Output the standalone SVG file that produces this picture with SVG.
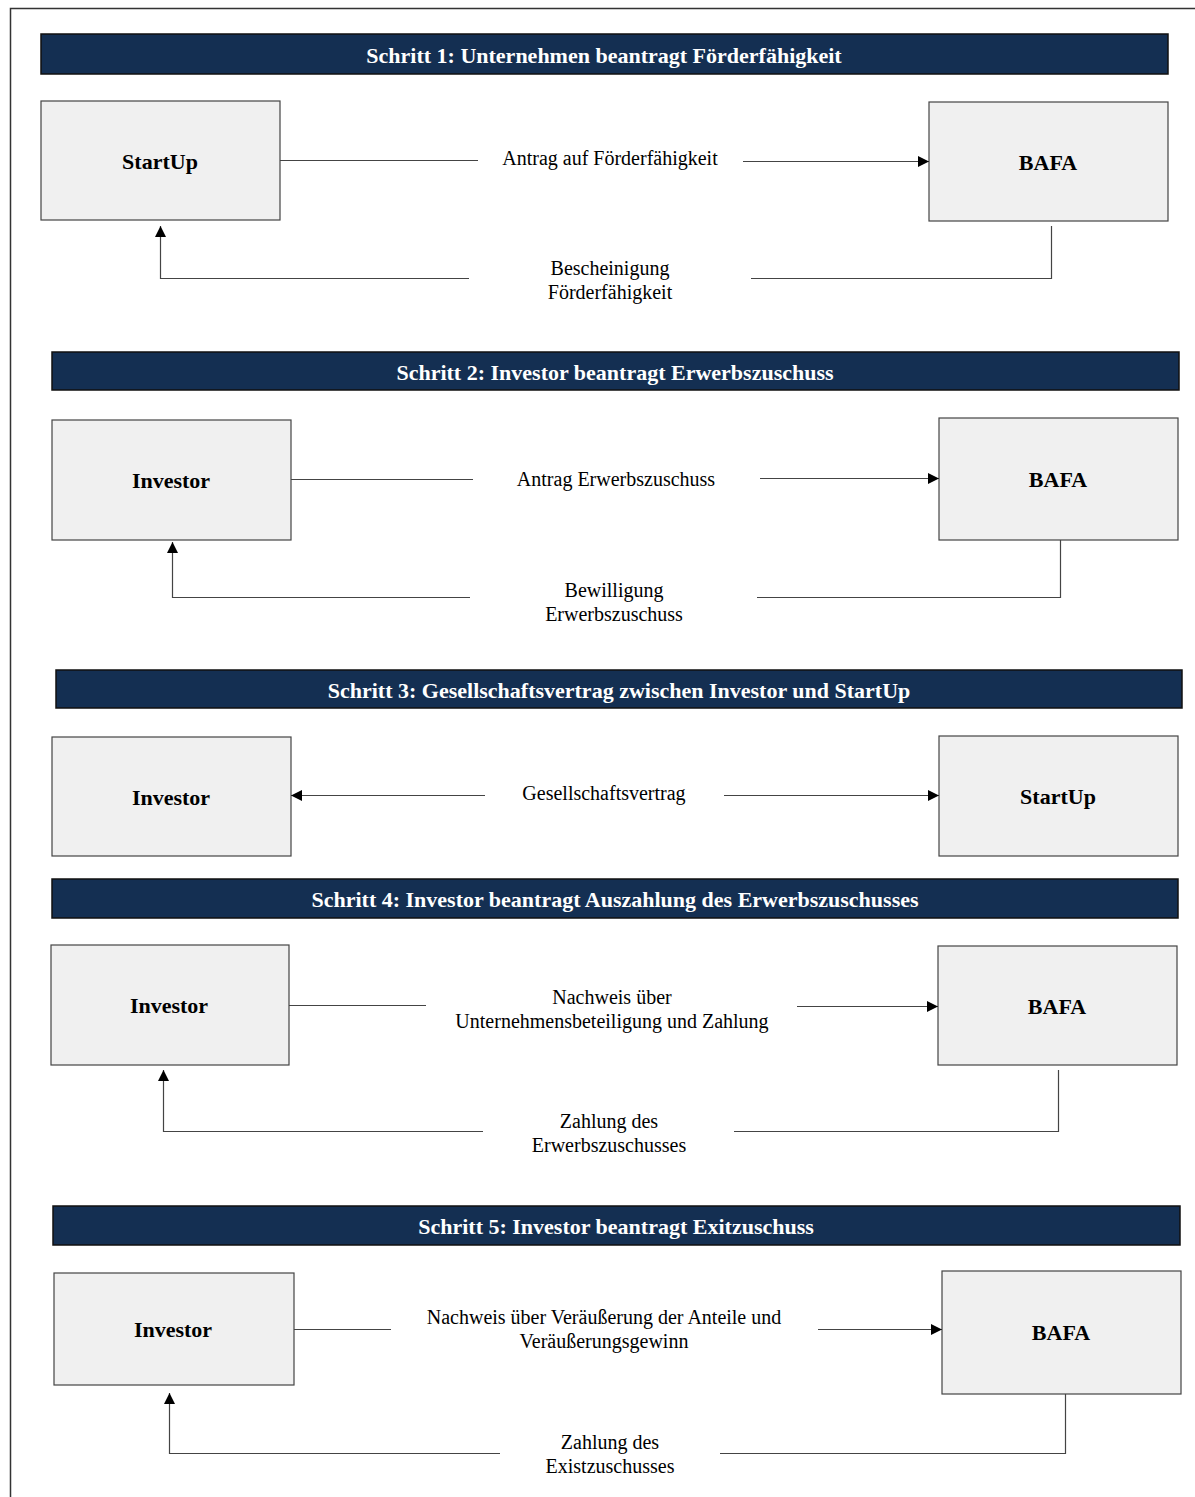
<svg xmlns="http://www.w3.org/2000/svg" width="1195" height="1497" viewBox="0 0 1195 1497">
<style>
.hdr{fill:#142f52;stroke:#111;stroke-width:1.5}
.hdrt{font-family:"Liberation Serif",serif;font-weight:bold;font-size:22px;fill:#fff;text-anchor:middle}
.box{fill:#f0f0f0;stroke:#444;stroke-width:1.2}
.nt{font-family:"Liberation Serif",serif;font-weight:bold;font-size:22px;fill:#000;text-anchor:middle}
.lt{font-family:"Liberation Serif",serif;font-size:20px;fill:#000;text-anchor:middle}
.ln{fill:none;stroke:#444;stroke-width:1.2}
</style>
<defs>
<marker id="ah" viewBox="0 0 10 10" refX="10" refY="5" markerWidth="11" markerHeight="11" markerUnits="userSpaceOnUse" orient="auto">
<path d="M0,0 L10,5 L0,10 z" fill="#000"/>
</marker>
</defs>
<rect width="1195" height="1497" fill="#fff"/>
<path d="M10.5,1497 V8.5 H1195" fill="none" stroke="#333" stroke-width="1.5"/>

<g id="header1"><rect class="hdr" x="41" y="34" width="1127" height="40"/><text class="hdrt" x="604" y="63">Schritt 1: Unternehmen beantragt Förderfähigkeit</text></g>
<g id="startup1"><rect class="box" x="41" y="101" width="239" height="119"/><text class="nt" x="160" y="169">StartUp</text></g>
<g id="bafa1"><rect class="box" x="929" y="102" width="239" height="119"/><text class="nt" x="1048" y="170">BAFA</text></g>

<g id="header2"><rect class="hdr" x="52" y="352" width="1127" height="38"/><text class="hdrt" x="615" y="380">Schritt 2: Investor beantragt Erwerbszuschuss</text></g>
<g id="investor2"><rect class="box" x="52" y="420" width="239" height="120"/><text class="nt" x="171" y="488">Investor</text></g>
<g id="bafa2"><rect class="box" x="939" y="418" width="239" height="122"/><text class="nt" x="1058" y="487">BAFA</text></g>

<g id="header3"><rect class="hdr" x="56" y="670" width="1126" height="38"/><text class="hdrt" x="619" y="698">Schritt 3: Gesellschaftsvertrag zwischen Investor und StartUp</text></g>
<g id="investor3"><rect class="box" x="52" y="737" width="239" height="119"/><text class="nt" x="171" y="805">Investor</text></g>
<g id="startup3"><rect class="box" x="939" y="736" width="239" height="120"/><text class="nt" x="1058" y="804">StartUp</text></g>

<g id="header4"><rect class="hdr" x="52" y="879" width="1126" height="39"/><text class="hdrt" x="615" y="907">Schritt 4: Investor beantragt Auszahlung des Erwerbszuschusses</text></g>
<g id="investor4"><rect class="box" x="51" y="945" width="238" height="120"/><text class="nt" x="169" y="1013">Investor</text></g>
<g id="bafa4"><rect class="box" x="938" y="946" width="239" height="119"/><text class="nt" x="1057" y="1014">BAFA</text></g>

<g id="header5"><rect class="hdr" x="53" y="1206" width="1127" height="39"/><text class="hdrt" x="616" y="1234">Schritt 5: Investor beantragt Exitzuschuss</text></g>
<g id="investor5"><rect class="box" x="54" y="1273" width="240" height="112"/><text class="nt" x="173" y="1337">Investor</text></g>
<g id="bafa5"><rect class="box" x="942" y="1271" width="239" height="123"/><text class="nt" x="1061" y="1340">BAFA</text></g>

<g id="connectors">
<path class="ln" d="M280,160.5 H478"/>
<path class="ln" d="M743,161.5 H929" marker-end="url(#ah)"/>
<path class="ln" d="M1051.5,226 V278.5 H751"/>
<path class="ln" d="M469,278.5 H160.5 V226" marker-end="url(#ah)"/>
<text class="lt" x="610" y="165">Antrag auf Förderfähigkeit</text>
<text class="lt" x="610" y="275">Bescheinigung</text>
<text class="lt" x="610" y="299">Förderfähigkeit</text>

<path class="ln" d="M291,479.5 H473"/>
<path class="ln" d="M760,478.5 H939" marker-end="url(#ah)"/>
<path class="ln" d="M1060.5,540 V597.5 H757"/>
<path class="ln" d="M470,597.5 H172.5 V542" marker-end="url(#ah)"/>
<text class="lt" x="616" y="486">Antrag Erwerbszuschuss</text>
<text class="lt" x="614" y="597">Bewilligung</text>
<text class="lt" x="614" y="621">Erwerbszuschuss</text>

<path class="ln" d="M485,795.5 H291" marker-end="url(#ah)"/>
<path class="ln" d="M724,795.5 H939" marker-end="url(#ah)"/>
<text class="lt" x="604" y="800">Gesellschaftsvertrag</text>

<path class="ln" d="M289,1005.5 H426"/>
<path class="ln" d="M797,1006.5 H938" marker-end="url(#ah)"/>
<path class="ln" d="M1058.5,1070 V1131.5 H734"/>
<path class="ln" d="M483,1131.5 H163.5 V1070" marker-end="url(#ah)"/>
<text class="lt" x="612" y="1004">Nachweis über</text>
<text class="lt" x="612" y="1028">Unternehmensbeteiligung und Zahlung</text>
<text class="lt" x="609" y="1128">Zahlung des</text>
<text class="lt" x="609" y="1152">Erwerbszuschusses</text>

<path class="ln" d="M294,1329.5 H391"/>
<path class="ln" d="M818,1329.5 H942" marker-end="url(#ah)"/>
<path class="ln" d="M1065.5,1394 V1453.5 H720"/>
<path class="ln" d="M500,1453.5 H169.5 V1393" marker-end="url(#ah)"/>
<text class="lt" x="604" y="1324">Nachweis über Veräußerung der Anteile und</text>
<text class="lt" x="604" y="1348">Veräußerungsgewinn</text>
<text class="lt" x="610" y="1449">Zahlung des</text>
<text class="lt" x="610" y="1473">Existzuschusses</text>
</g>
</svg>
